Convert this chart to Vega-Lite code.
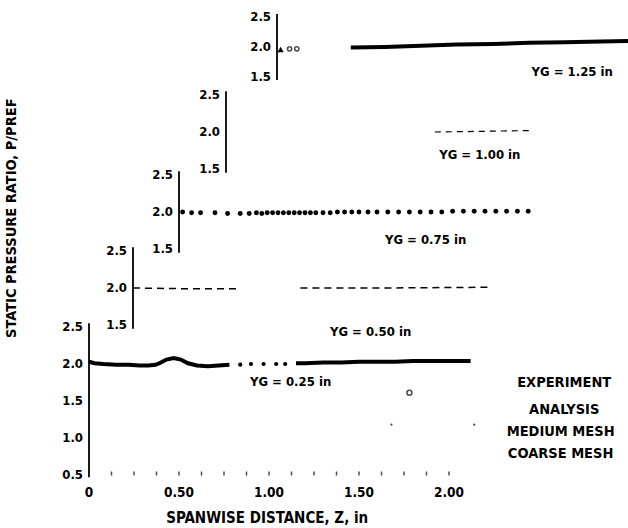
{
  "$schema": "https://vega.github.io/schema/vega-lite/v6.json",
  "width": 628,
  "height": 528,
  "padding": 0,
  "autosize": {"type": "none"},
  "background": "white",
  "config": {
    "view": {"stroke": null},
    "axis": {"disable": true},
    "text": {"font": "DejaVu Sans Condensed, Liberation Sans Narrow, DejaVu Sans", "fontWeight": "bold", "fontSize": 13, "color": "black"}
  },
  "datasets": {
    "pts": [
      {"yg": 0.25, "s": "a", "z": 0.0, "p": 2.03}, {"yg": 0.25, "s": "a", "z": 0.03, "p": 2.01}, {"yg": 0.25, "s": "a", "z": 0.08, "p": 2.0},
      {"yg": 0.25, "s": "a", "z": 0.15, "p": 1.99}, {"yg": 0.25, "s": "a", "z": 0.22, "p": 1.99}, {"yg": 0.25, "s": "a", "z": 0.28, "p": 1.98},
      {"yg": 0.25, "s": "a", "z": 0.33, "p": 1.98}, {"yg": 0.25, "s": "a", "z": 0.37, "p": 1.99}, {"yg": 0.25, "s": "a", "z": 0.4, "p": 2.02},
      {"yg": 0.25, "s": "a", "z": 0.43, "p": 2.06}, {"yg": 0.25, "s": "a", "z": 0.47, "p": 2.08}, {"yg": 0.25, "s": "a", "z": 0.51, "p": 2.06},
      {"yg": 0.25, "s": "a", "z": 0.55, "p": 2.01}, {"yg": 0.25, "s": "a", "z": 0.6, "p": 1.98}, {"yg": 0.25, "s": "a", "z": 0.66, "p": 1.97},
      {"yg": 0.25, "s": "a", "z": 0.72, "p": 1.98}, {"yg": 0.25, "s": "a", "z": 0.78, "p": 1.99},
      {"yg": 0.25, "s": "o", "z": 0.84, "p": 1.99}, {"yg": 0.25, "s": "o", "z": 0.9, "p": 2.0}, {"yg": 0.25, "s": "o", "z": 0.97, "p": 2.0},
      {"yg": 0.25, "s": "o", "z": 1.04, "p": 2.0}, {"yg": 0.25, "s": "o", "z": 1.09, "p": 2.0},
      {"yg": 0.25, "s": "b", "z": 1.15, "p": 2.01}, {"yg": 0.25, "s": "b", "z": 1.2, "p": 2.01}, {"yg": 0.25, "s": "b", "z": 1.3, "p": 2.02},
      {"yg": 0.25, "s": "b", "z": 1.4, "p": 2.02}, {"yg": 0.25, "s": "b", "z": 1.5, "p": 2.03}, {"yg": 0.25, "s": "b", "z": 1.6, "p": 2.03},
      {"yg": 0.25, "s": "b", "z": 1.7, "p": 2.03}, {"yg": 0.25, "s": "b", "z": 1.8, "p": 2.04}, {"yg": 0.25, "s": "b", "z": 1.9, "p": 2.04},
      {"yg": 0.25, "s": "b", "z": 2.0, "p": 2.04}, {"yg": 0.25, "s": "b", "z": 2.12, "p": 2.04},
      {"yg": 0.5, "s": "a", "z": 0.0, "p": 2.0}, {"yg": 0.5, "s": "a", "z": 0.3, "p": 1.99}, {"yg": 0.5, "s": "a", "z": 0.6, "p": 1.99},
      {"yg": 0.5, "s": "b", "z": 0.93, "p": 2.0}, {"yg": 0.5, "s": "b", "z": 1.4, "p": 2.0}, {"yg": 0.5, "s": "b", "z": 1.99, "p": 2.01},
      {"yg": 0.75, "z": 0.02, "p": 2.0}, {"yg": 0.75, "z": 0.07, "p": 1.99}, {"yg": 0.75, "z": 0.12, "p": 1.99},
      {"yg": 0.75, "z": 0.2, "p": 1.99}, {"yg": 0.75, "z": 0.27, "p": 1.98}, {"yg": 0.75, "z": 0.34, "p": 1.98},
      {"yg": 0.75, "z": 0.39, "p": 1.98}, {"yg": 0.75, "z": 0.43, "p": 1.99}, {"yg": 0.75, "z": 0.46, "p": 1.98},
      {"yg": 0.75, "z": 0.49, "p": 1.99}, {"yg": 0.75, "z": 0.52, "p": 1.99}, {"yg": 0.75, "z": 0.55, "p": 1.99},
      {"yg": 0.75, "z": 0.58, "p": 1.99}, {"yg": 0.75, "z": 0.61, "p": 1.99}, {"yg": 0.75, "z": 0.64, "p": 1.99},
      {"yg": 0.75, "z": 0.67, "p": 1.99}, {"yg": 0.75, "z": 0.7, "p": 1.99}, {"yg": 0.75, "z": 0.73, "p": 1.99},
      {"yg": 0.75, "z": 0.76, "p": 1.99}, {"yg": 0.75, "z": 0.8, "p": 1.99}, {"yg": 0.75, "z": 0.84, "p": 1.99},
      {"yg": 0.75, "z": 0.88, "p": 2.0}, {"yg": 0.75, "z": 0.92, "p": 2.0}, {"yg": 0.75, "z": 0.96, "p": 2.0},
      {"yg": 0.75, "z": 1.0, "p": 2.0}, {"yg": 0.75, "z": 1.05, "p": 2.0}, {"yg": 0.75, "z": 1.1, "p": 2.0},
      {"yg": 0.75, "z": 1.16, "p": 2.0}, {"yg": 0.75, "z": 1.22, "p": 2.0}, {"yg": 0.75, "z": 1.28, "p": 2.0},
      {"yg": 0.75, "z": 1.34, "p": 2.0}, {"yg": 0.75, "z": 1.4, "p": 2.0}, {"yg": 0.75, "z": 1.46, "p": 2.0},
      {"yg": 0.75, "z": 1.52, "p": 2.01}, {"yg": 0.75, "z": 1.58, "p": 2.01}, {"yg": 0.75, "z": 1.64, "p": 2.01},
      {"yg": 0.75, "z": 1.7, "p": 2.01}, {"yg": 0.75, "z": 1.76, "p": 2.01}, {"yg": 0.75, "z": 1.82, "p": 2.01},
      {"yg": 0.75, "z": 1.88, "p": 2.01}, {"yg": 0.75, "z": 1.94, "p": 2.01},
      {"yg": 1.0, "z": 1.16, "p": 2.0}, {"yg": 1.0, "z": 1.45, "p": 2.01}, {"yg": 1.0, "z": 1.69, "p": 2.02},
      {"yg": 1.25, "z": 0.41, "p": 1.99}, {"yg": 1.25, "z": 0.6, "p": 2.0}, {"yg": 1.25, "z": 0.8, "p": 2.02},
      {"yg": 1.25, "z": 1.0, "p": 2.04}, {"yg": 1.25, "z": 1.2, "p": 2.05}, {"yg": 1.25, "z": 1.4, "p": 2.07},
      {"yg": 1.25, "z": 1.6, "p": 2.08}, {"yg": 1.25, "z": 1.8, "p": 2.09}, {"yg": 1.25, "z": 1.95, "p": 2.1}
    ],
    "yaxes": [
      {"yg": 0.25, "p1": 0.47, "p2": 2.55},
      {"yg": 0.5, "p1": 1.45, "p2": 2.55},
      {"yg": 0.75, "p1": 1.45, "p2": 2.55},
      {"yg": 1.0, "p1": 1.45, "p2": 2.55},
      {"yg": 1.25, "p1": 1.45, "p2": 2.55}
    ],
    "ylabels": [
      {"yg": 0.25, "p": 0.5, "lab": "0.5"}, {"yg": 0.25, "p": 1.0, "lab": "1.0"}, {"yg": 0.25, "p": 1.5, "lab": "1.5"},
      {"yg": 0.25, "p": 2.0, "lab": "2.0"}, {"yg": 0.25, "p": 2.5, "lab": "2.5"},
      {"yg": 0.5, "p": 1.5, "lab": "1.5"}, {"yg": 0.5, "p": 2.0, "lab": "2.0"}, {"yg": 0.5, "p": 2.5, "lab": "2.5"},
      {"yg": 0.75, "p": 1.5, "lab": "1.5"}, {"yg": 0.75, "p": 2.0, "lab": "2.0"}, {"yg": 0.75, "p": 2.5, "lab": "2.5"},
      {"yg": 1.0, "p": 1.5, "lab": "1.5"}, {"yg": 1.0, "p": 2.0, "lab": "2.0"}, {"yg": 1.0, "p": 2.5, "lab": "2.5"},
      {"yg": 1.25, "p": 1.5, "lab": "1.5"}, {"yg": 1.25, "p": 2.0, "lab": "2.0"}, {"yg": 1.25, "p": 2.5, "lab": "2.5"}
    ],
    "yglabels": [
      {"yg": 0.25, "z": 1.12, "p": 1.76, "lab": "YG = 0.25 in"},
      {"yg": 0.5, "z": 1.32, "p": 1.4, "lab": "YG = 0.50 in"},
      {"yg": 0.75, "z": 1.37, "p": 1.62, "lab": "YG = 0.75 in"},
      {"yg": 1.0, "z": 1.41, "p": 1.69, "lab": "YG = 1.00 in"},
      {"yg": 1.25, "z": 1.64, "p": 1.58, "lab": "YG = 1.25 in"}
    ],
    "xticks": [
      {"z": 0.125}, {"z": 0.25}, {"z": 0.375}, {"z": 0.5}, {"z": 0.625}, {"z": 0.75}, {"z": 0.875}, {"z": 1.0},
      {"z": 1.125}, {"z": 1.25}, {"z": 1.375}, {"z": 1.5}, {"z": 1.625}, {"z": 1.75}, {"z": 1.875}, {"z": 2.0}
    ],
    "xlabels": [
      {"z": 0.0, "lab": "0"}, {"z": 0.5, "lab": "0.50"}, {"z": 1.0, "lab": "1.00"}, {"z": 1.5, "lab": "1.50"}, {"z": 2.0, "lab": "2.00"}
    ],
    "legend": [
      {"z": 2.64, "p": 1.74, "lab": "EXPERIMENT"},
      {"z": 2.64, "p": 1.38, "lab": "ANALYSIS"},
      {"z": 2.62, "p": 1.08, "lab": "MEDIUM MESH"},
      {"z": 2.62, "p": 0.78, "lab": "COARSE MESH"}
    ]
  },
  "layer": [
    {
      "layer": [
        {"data": {"name": "yaxes"}, "transform": [{"filter": "datum.yg == 0.25"}], "mark": {"type": "rule", "color": "black", "strokeWidth": 1.8},
         "encoding": {"x": {"datum": 0, "type": "quantitative", "scale": {"domain": [-0.49444, 2.99444], "nice": false, "zero": false}},
                      "y": {"field": "p1", "type": "quantitative", "scale": {"domain": [-0.21622, 6.91892], "nice": false, "zero": false}}, "y2": {"field": "p2"}}},
        {"data": {"name": "ylabels"}, "transform": [{"filter": "datum.yg == 0.25"}], "mark": {"type": "text", "align": "right", "baseline": "middle", "dx": -6},
         "encoding": {"x": {"datum": 0, "type": "quantitative", "scale": {"domain": [-0.49444, 2.99444], "nice": false, "zero": false}},
                      "y": {"field": "p", "type": "quantitative", "scale": {"domain": [-0.21622, 6.91892], "nice": false, "zero": false}}, "text": {"field": "lab"}}},
        {"data": {"name": "pts"}, "transform": [{"filter": "datum.yg == 0.25 && datum.s != 'o'"}], "mark": {"type": "line", "color": "black", "strokeWidth": 4},
         "encoding": {"x": {"field": "z", "type": "quantitative", "scale": {"domain": [-0.49444, 2.99444], "nice": false, "zero": false}},
                      "y": {"field": "p", "type": "quantitative", "scale": {"domain": [-0.21622, 6.91892], "nice": false, "zero": false}}, "detail": {"field": "s"}}},
        {"data": {"name": "pts"}, "transform": [{"filter": "datum.yg == 0.25 && datum.s == 'o'"}], "mark": {"type": "circle", "color": "black", "size": 18, "opacity": 1},
         "encoding": {"x": {"field": "z", "type": "quantitative", "scale": {"domain": [-0.49444, 2.99444], "nice": false, "zero": false}},
                      "y": {"field": "p", "type": "quantitative", "scale": {"domain": [-0.21622, 6.91892], "nice": false, "zero": false}}}},
        {"data": {"name": "yglabels"}, "transform": [{"filter": "datum.yg == 0.25"}], "mark": {"type": "text", "align": "center", "baseline": "middle"},
         "encoding": {"x": {"field": "z", "type": "quantitative", "scale": {"domain": [-0.49444, 2.99444], "nice": false, "zero": false}},
                      "y": {"field": "p", "type": "quantitative", "scale": {"domain": [-0.21622, 6.91892], "nice": false, "zero": false}}, "text": {"field": "lab"}}},
        {"data": {"name": "xticks"}, "mark": {"type": "tick", "orient": "vertical", "color": "black", "size": 4, "thickness": 1.5},
         "encoding": {"x": {"field": "z", "type": "quantitative", "scale": {"domain": [-0.49444, 2.99444], "nice": false, "zero": false}},
                      "y": {"datum": 0.52, "type": "quantitative", "scale": {"domain": [-0.21622, 6.91892], "nice": false, "zero": false}}}},
        {"data": {"name": "xlabels"}, "mark": {"type": "text", "align": "center", "baseline": "middle", "dy": 18, "fontSize": 13.5},
         "encoding": {"x": {"field": "z", "type": "quantitative", "scale": {"domain": [-0.49444, 2.99444], "nice": false, "zero": false}},
                      "y": {"datum": 0.5, "type": "quantitative", "scale": {"domain": [-0.21622, 6.91892], "nice": false, "zero": false}}, "text": {"field": "lab"}}},
        {"data": {"values": [{"z": 0.99, "lab": "SPANWISE DISTANCE, Z, in"}]}, "mark": {"type": "text", "align": "center", "baseline": "middle", "dy": 43, "fontSize": 15},
         "encoding": {"x": {"field": "z", "type": "quantitative", "scale": {"domain": [-0.49444, 2.99444], "nice": false, "zero": false}},
                      "y": {"datum": 0.5, "type": "quantitative", "scale": {"domain": [-0.21622, 6.91892], "nice": false, "zero": false}}, "text": {"field": "lab"}}},
        {"data": {"values": [{"z": -0.43, "p": 3.97, "lab": "STATIC PRESSURE RATIO, P/PREF"}]}, "mark": {"type": "text", "align": "center", "baseline": "middle", "angle": 270, "fontSize": 14.5},
         "encoding": {"x": {"field": "z", "type": "quantitative", "scale": {"domain": [-0.49444, 2.99444], "nice": false, "zero": false}},
                      "y": {"field": "p", "type": "quantitative", "scale": {"domain": [-0.21622, 6.91892], "nice": false, "zero": false}}, "text": {"field": "lab"}}},
        {"data": {"name": "legend"}, "mark": {"type": "text", "align": "center", "baseline": "middle", "fontSize": 14.5},
         "encoding": {"x": {"field": "z", "type": "quantitative", "scale": {"domain": [-0.49444, 2.99444], "nice": false, "zero": false}},
                      "y": {"field": "p", "type": "quantitative", "scale": {"domain": [-0.21622, 6.91892], "nice": false, "zero": false}}, "text": {"field": "lab"}}},
        {"data": {"values": [{"z": 1.78, "p": 1.61}]}, "mark": {"type": "point", "shape": "circle", "color": "black", "strokeWidth": 1.5, "size": 25},
         "encoding": {"x": {"field": "z", "type": "quantitative", "scale": {"domain": [-0.49444, 2.99444], "nice": false, "zero": false}},
                      "y": {"field": "p", "type": "quantitative", "scale": {"domain": [-0.21622, 6.91892], "nice": false, "zero": false}}}},
        {"data": {"values": [{"z": 1.68, "p": 1.18}, {"z": 2.14, "p": 1.18}]}, "mark": {"type": "circle", "color": "black", "size": 5},
         "encoding": {"x": {"field": "z", "type": "quantitative", "scale": {"domain": [-0.49444, 2.99444], "nice": false, "zero": false}},
                      "y": {"field": "p", "type": "quantitative", "scale": {"domain": [-0.21622, 6.91892], "nice": false, "zero": false}}}}
      ]
    },
    {
      "layer": [
        {"data": {"name": "yaxes"}, "transform": [{"filter": "datum.yg == 0.5"}], "mark": {"type": "rule", "color": "black", "strokeWidth": 1.8},
         "encoding": {"x": {"datum": 0, "type": "quantitative", "scale": {"domain": [-0.73889, 2.75], "nice": false, "zero": false}},
                      "y": {"field": "p1", "type": "quantitative", "scale": {"domain": [-1.24324, 5.89189], "nice": false, "zero": false}}, "y2": {"field": "p2"}}},
        {"data": {"name": "ylabels"}, "transform": [{"filter": "datum.yg == 0.5"}], "mark": {"type": "text", "align": "right", "baseline": "middle", "dx": -6},
         "encoding": {"x": {"datum": 0, "type": "quantitative", "scale": {"domain": [-0.73889, 2.75], "nice": false, "zero": false}},
                      "y": {"field": "p", "type": "quantitative", "scale": {"domain": [-1.24324, 5.89189], "nice": false, "zero": false}}, "text": {"field": "lab"}}},
        {"data": {"name": "pts"}, "transform": [{"filter": "datum.yg == 0.5"}], "mark": {"type": "line", "color": "black", "strokeWidth": 1.5, "strokeDash": [7, 5]},
         "encoding": {"x": {"field": "z", "type": "quantitative", "scale": {"domain": [-0.73889, 2.75], "nice": false, "zero": false}},
                      "y": {"field": "p", "type": "quantitative", "scale": {"domain": [-1.24324, 5.89189], "nice": false, "zero": false}}, "detail": {"field": "s"}}},
        {"data": {"name": "yglabels"}, "transform": [{"filter": "datum.yg == 0.5"}], "mark": {"type": "text", "align": "center", "baseline": "middle"},
         "encoding": {"x": {"field": "z", "type": "quantitative", "scale": {"domain": [-0.73889, 2.75], "nice": false, "zero": false}},
                      "y": {"field": "p", "type": "quantitative", "scale": {"domain": [-1.24324, 5.89189], "nice": false, "zero": false}}, "text": {"field": "lab"}}}
      ]
    },
    {
      "layer": [
        {"data": {"name": "yaxes"}, "transform": [{"filter": "datum.yg == 0.75"}], "mark": {"type": "rule", "color": "black", "strokeWidth": 1.8},
         "encoding": {"x": {"datum": 0, "type": "quantitative", "scale": {"domain": [-0.99444, 2.49444], "nice": false, "zero": false}},
                      "y": {"field": "p1", "type": "quantitative", "scale": {"domain": [-2.27027, 4.86486], "nice": false, "zero": false}}, "y2": {"field": "p2"}}},
        {"data": {"name": "ylabels"}, "transform": [{"filter": "datum.yg == 0.75"}], "mark": {"type": "text", "align": "right", "baseline": "middle", "dx": -6},
         "encoding": {"x": {"datum": 0, "type": "quantitative", "scale": {"domain": [-0.99444, 2.49444], "nice": false, "zero": false}},
                      "y": {"field": "p", "type": "quantitative", "scale": {"domain": [-2.27027, 4.86486], "nice": false, "zero": false}}, "text": {"field": "lab"}}},
        {"data": {"name": "pts"}, "transform": [{"filter": "datum.yg == 0.75"}], "mark": {"type": "circle", "color": "black", "size": 24, "opacity": 1},
         "encoding": {"x": {"field": "z", "type": "quantitative", "scale": {"domain": [-0.99444, 2.49444], "nice": false, "zero": false}},
                      "y": {"field": "p", "type": "quantitative", "scale": {"domain": [-2.27027, 4.86486], "nice": false, "zero": false}}}},
        {"data": {"name": "yglabels"}, "transform": [{"filter": "datum.yg == 0.75"}], "mark": {"type": "text", "align": "center", "baseline": "middle"},
         "encoding": {"x": {"field": "z", "type": "quantitative", "scale": {"domain": [-0.99444, 2.49444], "nice": false, "zero": false}},
                      "y": {"field": "p", "type": "quantitative", "scale": {"domain": [-2.27027, 4.86486], "nice": false, "zero": false}}, "text": {"field": "lab"}}}
      ]
    },
    {
      "layer": [
        {"data": {"name": "yaxes"}, "transform": [{"filter": "datum.yg == 1.0"}], "mark": {"type": "rule", "color": "black", "strokeWidth": 1.8},
         "encoding": {"x": {"datum": 0, "type": "quantitative", "scale": {"domain": [-1.25556, 2.23333], "nice": false, "zero": false}},
                      "y": {"field": "p1", "type": "quantitative", "scale": {"domain": [-3.35135, 3.78378], "nice": false, "zero": false}}, "y2": {"field": "p2"}}},
        {"data": {"name": "ylabels"}, "transform": [{"filter": "datum.yg == 1.0"}], "mark": {"type": "text", "align": "right", "baseline": "middle", "dx": -6},
         "encoding": {"x": {"datum": 0, "type": "quantitative", "scale": {"domain": [-1.25556, 2.23333], "nice": false, "zero": false}},
                      "y": {"field": "p", "type": "quantitative", "scale": {"domain": [-3.35135, 3.78378], "nice": false, "zero": false}}, "text": {"field": "lab"}}},
        {"data": {"name": "pts"}, "transform": [{"filter": "datum.yg == 1.0"}], "mark": {"type": "line", "color": "black", "strokeWidth": 1.2, "strokeDash": [6, 5]},
         "encoding": {"x": {"field": "z", "type": "quantitative", "scale": {"domain": [-1.25556, 2.23333], "nice": false, "zero": false}},
                      "y": {"field": "p", "type": "quantitative", "scale": {"domain": [-3.35135, 3.78378], "nice": false, "zero": false}}}},
        {"data": {"name": "yglabels"}, "transform": [{"filter": "datum.yg == 1.0"}], "mark": {"type": "text", "align": "center", "baseline": "middle"},
         "encoding": {"x": {"field": "z", "type": "quantitative", "scale": {"domain": [-1.25556, 2.23333], "nice": false, "zero": false}},
                      "y": {"field": "p", "type": "quantitative", "scale": {"domain": [-3.35135, 3.78378], "nice": false, "zero": false}}, "text": {"field": "lab"}}}
      ]
    },
    {
      "layer": [
        {"data": {"name": "yaxes"}, "transform": [{"filter": "datum.yg == 1.25"}], "mark": {"type": "rule", "color": "black", "strokeWidth": 1.8},
         "encoding": {"x": {"datum": 0, "type": "quantitative", "scale": {"domain": [-1.53889, 1.95], "nice": false, "zero": false}},
                      "y": {"field": "p1", "type": "quantitative", "scale": {"domain": [-6.01667, 2.78333], "nice": false, "zero": false}}, "y2": {"field": "p2"}}},
        {"data": {"name": "ylabels"}, "transform": [{"filter": "datum.yg == 1.25"}], "mark": {"type": "text", "align": "right", "baseline": "middle", "dx": -6},
         "encoding": {"x": {"datum": 0, "type": "quantitative", "scale": {"domain": [-1.53889, 1.95], "nice": false, "zero": false}},
                      "y": {"field": "p", "type": "quantitative", "scale": {"domain": [-6.01667, 2.78333], "nice": false, "zero": false}}, "text": {"field": "lab"}}},
        {"data": {"name": "pts"}, "transform": [{"filter": "datum.yg == 1.25"}], "mark": {"type": "line", "color": "black", "strokeWidth": 4},
         "encoding": {"x": {"field": "z", "type": "quantitative", "scale": {"domain": [-1.53889, 1.95], "nice": false, "zero": false}},
                      "y": {"field": "p", "type": "quantitative", "scale": {"domain": [-6.01667, 2.78333], "nice": false, "zero": false}}}},
        {"data": {"values": [{"z": 0.02, "p": 1.96}]}, "mark": {"type": "point", "shape": "triangle-up", "filled": true, "color": "black", "size": 40, "opacity": 1},
         "encoding": {"x": {"field": "z", "type": "quantitative", "scale": {"domain": [-1.53889, 1.95], "nice": false, "zero": false}},
                      "y": {"field": "p", "type": "quantitative", "scale": {"domain": [-6.01667, 2.78333], "nice": false, "zero": false}}}},
        {"data": {"values": [{"z": 0.07, "p": 1.97}, {"z": 0.11, "p": 1.97}]}, "mark": {"type": "point", "shape": "circle", "color": "black", "size": 18, "strokeWidth": 1.5},
         "encoding": {"x": {"field": "z", "type": "quantitative", "scale": {"domain": [-1.53889, 1.95], "nice": false, "zero": false}},
                      "y": {"field": "p", "type": "quantitative", "scale": {"domain": [-6.01667, 2.78333], "nice": false, "zero": false}}}},
        {"data": {"name": "yglabels"}, "transform": [{"filter": "datum.yg == 1.25"}], "mark": {"type": "text", "align": "center", "baseline": "middle"},
         "encoding": {"x": {"field": "z", "type": "quantitative", "scale": {"domain": [-1.53889, 1.95], "nice": false, "zero": false}},
                      "y": {"field": "p", "type": "quantitative", "scale": {"domain": [-6.01667, 2.78333], "nice": false, "zero": false}}, "text": {"field": "lab"}}}
      ]
    }
  ],
  "resolve": {"scale": {"x": "independent", "y": "independent"}}
}
